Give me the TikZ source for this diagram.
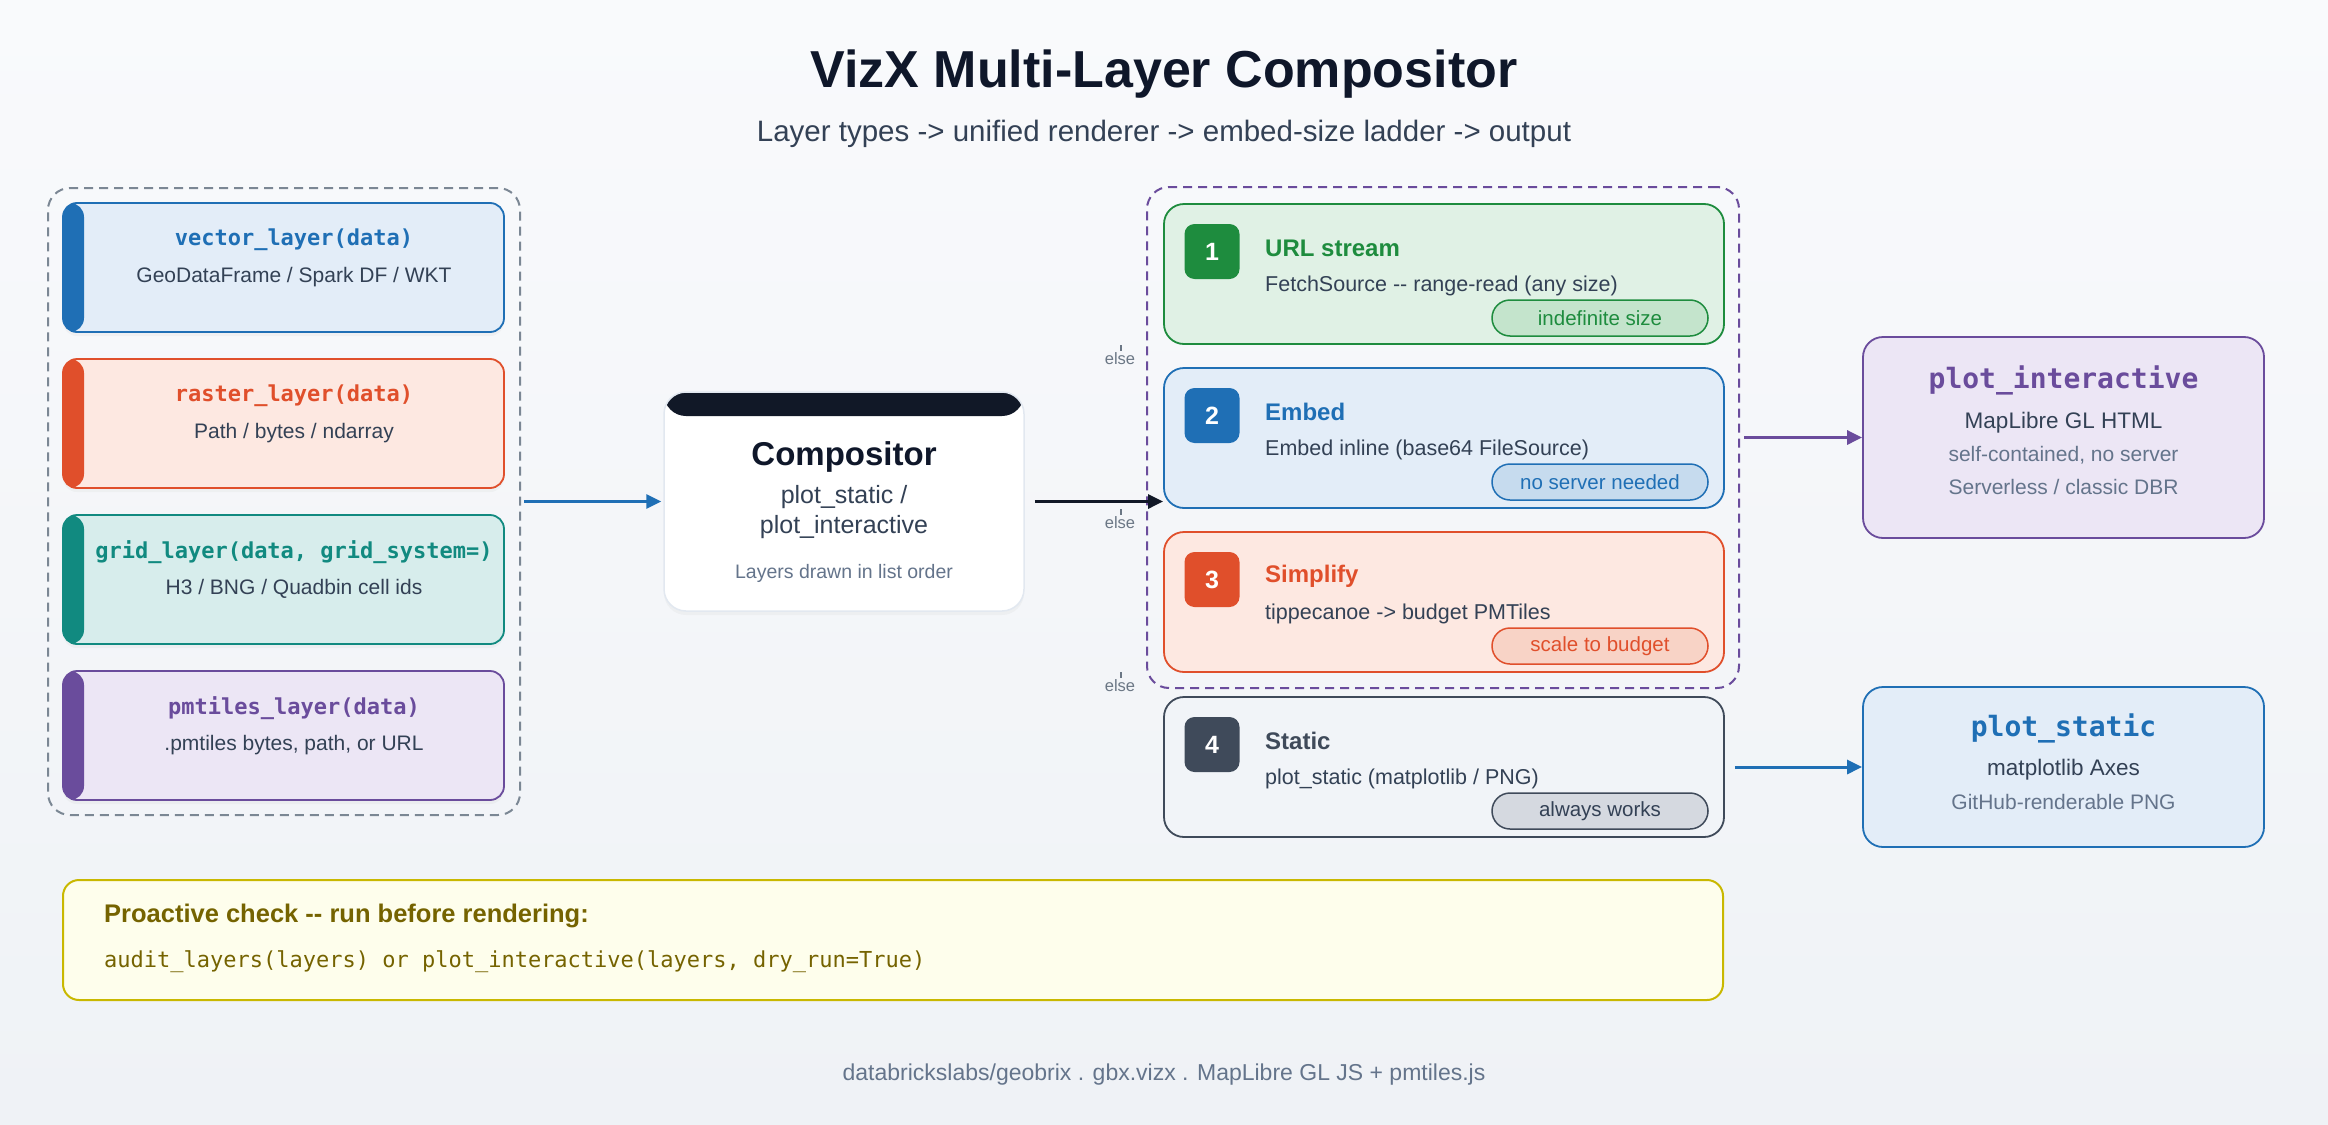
\documentclass[tikz,border=0pt]{standalone}
\usepackage{fontspec}
\setmainfont{Liberation Sans}
\setmonofont{DejaVu Sans Mono}
\usetikzlibrary{arrows.meta,shadows}
\newcommand{\fsz}[1]{\fontsize{#1}{#1}\selectfont}
\definecolor{bgtop}{HTML}{F9FAFC}
\definecolor{bgbot}{HTML}{EFF2F6}
\definecolor{ink}{HTML}{0F172A}
\definecolor{slate}{HTML}{334155}
\definecolor{muted}{HTML}{64748B}
\definecolor{dashgray}{HTML}{7B8794}
\definecolor{blu}{HTML}{1F6FB5}
\definecolor{blufill}{HTML}{E3EDF8}
\definecolor{blupill}{HTML}{C6DBEE}
\definecolor{red}{HTML}{E04F2B}
\definecolor{redfill}{HTML}{FDE8E1}
\definecolor{redpill}{HTML}{F8D3C6}
\definecolor{teal}{HTML}{118A80}
\definecolor{tealfill}{HTML}{D7EDEC}
\definecolor{purp}{HTML}{6A4C9C}
\definecolor{purpfill}{HTML}{ECE6F5}
\definecolor{grn}{HTML}{1E8C3E}
\definecolor{grnfill}{HTML}{E0F1E5}
\definecolor{grnpill}{HTML}{C4E4CC}
\definecolor{stl}{HTML}{3F4A5A}
\definecolor{stlfill}{HTML}{F1F4F8}
\definecolor{stlpill}{HTML}{D5D9E0}
\definecolor{hdr}{HTML}{111827}
\definecolor{cardline}{HTML}{E2E8F0}
\definecolor{olive}{HTML}{C9B800}
\definecolor{olivefill}{HTML}{FEFEEC}
\definecolor{olivetext}{HTML}{756300}
\definecolor{elsegray}{HTML}{6B7785}
\begin{document}
\begin{tikzpicture}[x=1pt,y=-1pt,
  layerbox/.style 2 args={draw=#1, fill=#2, line width=1.8pt, rounded corners=14pt,
    minimum width=441pt, minimum height=129pt, inner sep=0pt,
    drop shadow={opacity=0.06, shadow xshift=0pt, shadow yshift=-4pt},
    path picture={\fill[#1] (path picture bounding box.north west) rectangle ([xshift=21pt]path picture bounding box.south west);}},
  layertitle/.style={font=\ttfamily\bfseries\fsz{22}, inner sep=0pt},
  layersub/.style={font=\fsz{21}, text=slate, inner sep=0pt},
  stepbox/.style 2 args={draw=#1, fill=#2, line width=1.8pt, rounded corners=20pt,
    minimum width=560pt, minimum height=140pt, inner sep=0pt},
  badge/.style={minimum size=55pt, rounded corners=10pt, text=white,
    font=\bfseries\fsz{25}, inner sep=0pt},
  steptitle/.style={anchor=west, font=\bfseries\fsz{24}, inner sep=0pt},
  stepdesc/.style={anchor=west, font=\fsz{21.5}, text=slate, inner sep=0pt},
  pill/.style={minimum width=216pt, minimum height=36pt, rounded corners=18pt,
    line width=1.5pt, font=\fsz{20.5}, inner sep=0pt},
  outbox/.style 2 args={draw=#1, fill=#2, line width=1.8pt, rounded corners=20pt,
    minimum width=401pt, inner sep=0pt},
  outtitle/.style={font=\ttfamily\bfseries\fsz{28}, inner sep=0pt},
  outmain/.style={font=\fsz{22.5}, text=slate, inner sep=0pt},
  outsub/.style={font=\fsz{21}, text=muted, inner sep=0pt},
  elselbl/.style={font=\fsz{16.5}, text=elsegray, inner sep=0pt},
  container/.style={draw=#1, line width=2pt, dash pattern=on 9pt off 6pt, rounded corners=22pt, inner sep=0pt},
  conn/.style={line width=3pt, -{Triangle[length=15pt,width=14pt]}}
]
\useasboundingbox (0,0) rectangle (2328,1124);
\shade[top color=bgtop, bottom color=bgbot] (0,0) rectangle (2328,1124);

% title
\node[font=\bfseries\fsz{52}, text=ink, inner sep=0pt] (title) at (1164,74) {VizX Multi-Layer Compositor};
\node[font=\fsz{29.5}, text=slate, inner sep=0pt] (subtitle) at (1164,134) {Layer types -> unified renderer -> embed-size ladder -> output};

% left container
\node[container=dashgray, minimum width=472pt, minimum height=627pt] (lc) at (284,501.5) {};

\node[layerbox={blu}{blufill}] (vec) at (283.5,267.5) {};
\node[layertitle, text=blu] (vect) at (294,240) {vector\_layer(data)};
\node[layersub] (vecs) at (294,277) {GeoDataFrame / Spark DF / WKT};

\node[layerbox={red}{redfill}] (ras) at (283.5,423.5) {};
\node[layertitle, text=red] (rast) at (294,396) {raster\_layer(data)};
\node[layersub] (rass) at (294,433) {Path / bytes / ndarray};

\node[layerbox={teal}{tealfill}] (grd) at (283.5,579.5) {};
\node[layertitle, text=teal] (grdt) at (294,552) {grid\_layer(data, grid\_system=)};
\node[layersub] (grds) at (294,589) {H3 / BNG / Quadbin cell ids};

\node[layerbox={purp}{purpfill}] (pmt) at (283.5,735.5) {};
\node[layertitle, text=purp] (pmtt) at (294,708) {pmtiles\_layer(data)};
\node[layersub] (pmts) at (294,745) {.pmtiles bytes, path, or URL};

% compositor
\node[draw=cardline, fill=white, line width=1.5pt, rounded corners=22pt,
  minimum width=360pt, minimum height=219pt, inner sep=0pt,
  drop shadow={opacity=0.06, shadow xshift=0pt, shadow yshift=-4pt},
  path picture={\fill[hdr] (path picture bounding box.north west) rectangle ([yshift=-24pt]path picture bounding box.north east);}]
  (comp) at (844,501.5) {};
\node[font=\bfseries\fsz{33}, text=ink, inner sep=0pt] (compt) at (844,457) {Compositor};
\node[font=\fsz{25}, text=slate, inner sep=0pt] (comp1) at (844,497) {plot\_static /};
\node[font=\fsz{25}, text=slate, inner sep=0pt] (comp2) at (844,527) {plot\_interactive};
\node[font=\fsz{19.5}, text=muted, inner sep=0pt] (comp3) at (844,573) {Layers drawn in list order};

% ladder container
\node[container=purp, minimum width=592pt, minimum height=501pt] (lad) at (1443,437.5) {};

% step 1
\node[stepbox={grn}{grnfill}] (s1) at (1444,274) {};
\node[badge, fill=grn] (b1) at (1212,251.5) {1};
\node[steptitle, text=grn] (t1) at (1265,248) {URL stream};
\node[stepdesc] (d1) at (1265,286) {FetchSource -{}- range-read (any size)};
\node[pill, draw=grn, fill=grnpill, text=grn] (p1) at (1600,318) {indefinite size};

% step 2
\node[stepbox={blu}{blufill}] (s2) at (1444,438) {};
\node[badge, fill=blu] (b2) at (1212,415.5) {2};
\node[steptitle, text=blu] (t2) at (1265,412) {Embed};
\node[stepdesc] (d2) at (1265,450) {Embed inline (base64 FileSource)};
\node[pill, draw=blu, fill=blupill, text=blu] (p2) at (1600,482) {no server needed};

% step 3
\node[stepbox={red}{redfill}] (s3) at (1444,602) {};
\node[badge, fill=red] (b3) at (1212,579.5) {3};
\node[steptitle, text=red] (t3) at (1265,576) {Simplify};
\node[stepdesc] (d3) at (1265,614) {tippecanoe -> budget PMTiles};
\node[pill, draw=red, fill=redpill, text=red] (p3) at (1600,646) {scale to budget};

% step 4
\node[stepbox={stl}{stlfill}] (s4) at (1444,767) {};
\node[badge, fill=stl] (b4) at (1212,744.5) {4};
\node[steptitle, text=stl] (t4) at (1265,741) {Static};
\node[stepdesc] (d4) at (1265,779) {plot\_static (matplotlib / PNG)};
\node[pill, draw=stl, fill=stlpill, text=slate] (p4) at (1600,811) {always works};

% else labels
\node[elselbl] (e1) at (1120,359) {else};
\node[elselbl] (e2) at (1120,523) {else};
\node[elselbl] (e3) at (1120,686) {else};
\foreach \n in {e1,e2,e3}{
  \draw[elsegray, line width=1.2pt] ([xshift=1pt,yshift=14pt]\n.center) -- ([xshift=1pt,yshift=8pt]\n.center);
}

% outputs
\node[outbox={purp}{purpfill}, minimum height=201pt] (oi) at (2063.5,437.5) {};
\node[outtitle, text=purp] (oit) at (2063.5,380) {plot\_interactive};
\node[outmain] (oim) at (2063.5,423) {MapLibre GL HTML};
\node[outsub] (ois1) at (2063.5,455) {self-contained, no server};
\node[outsub] (ois2) at (2063.5,487) {Serverless / classic DBR};

\node[outbox={blu}{blufill}, minimum height=160pt] (os) at (2063.5,767) {};
\node[outtitle, text=blu] (ost) at (2063.5,728) {plot\_static};
\node[outmain] (osm) at (2063.5,770) {matplotlib Axes};
\node[outsub] (oss) at (2063.5,802) {GitHub-renderable PNG};

% connectors
\draw[conn, blu, shorten <=3pt, shorten >=2pt] (lc.east) -- (comp.west);
\draw[conn, hdr, shorten <=10pt] (comp.east) -- (comp.east -| s2.west);
\draw[conn, purp, shorten <=4pt] (lad.east) -- (oi.west);
\draw[conn, blu, shorten <=10pt] (s4.east) -- (os.west);

% proactive check
\node[draw=olive, fill=olivefill, line width=2pt, rounded corners=16pt,
  minimum width=1660pt, minimum height=120pt, inner sep=0pt] (pc) at (893,940) {};
\node[anchor=west, font=\bfseries\fsz{25.5}, text=olivetext, inner sep=0pt] (pct) at (104,916) {Proactive check -{}- run before rendering:};
\node[anchor=west, font=\ttfamily\fsz{22}, text=olivetext, inner sep=0pt] (pcc) at (104,962) {audit\_layers(layers) or plot\_interactive(layers, dry\_run=True)};

% footer
\node[font=\fsz{23}, text=muted, inner sep=0pt] (foot) at (1164,1075) {databrickslabs/geobrix . gbx.vizx . MapLibre GL JS + pmtiles.js};
\end{tikzpicture}
\end{document}
